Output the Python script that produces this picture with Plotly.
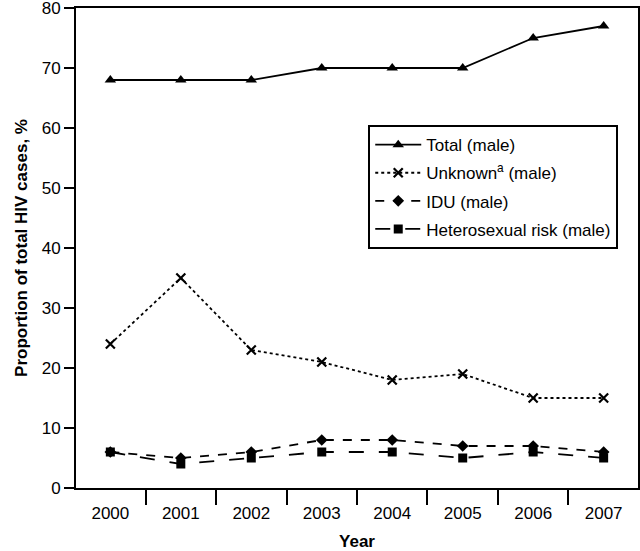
import plotly.graph_objects as go

years = ["2000", "2001", "2002", "2003", "2004", "2005", "2006", "2007"]
total_male = [68, 68, 68, 70, 70, 70, 75, 77]
unknown_male = [24, 35, 23, 21, 18, 19, 15, 15]
idu_male = [6, 5, 6, 8, 8, 7, 7, 6]
hetero_male = [6, 4, 5, 6, 6, 5, 6, 5]
y_ticks = [0, 10, 20, 30, 40, 50, 60, 70, 80]

FONT = "Liberation Sans, Arial, Helvetica, sans-serif"
FS = 17

fig = go.Figure()
fig.add_trace(go.Scatter(x=years, y=total_male, name="Total (male)", mode="lines+markers",
                         legendgroup="a",
                         line=dict(color="black", width=1.8, dash="solid"),
                         marker=dict(symbol="triangle-up", size=10, color="black")))
fig.add_trace(go.Scatter(x=years, y=unknown_male, name="Unknown<sup>a</sup> (male)", mode="lines+markers",
                         legendgroup="b",
                         line=dict(color="black", width=1.8, dash="dot"),
                         marker=dict(symbol="x-thin-open", size=9, color="black",
                                     line=dict(color="black", width=2.2))))
fig.add_trace(go.Scatter(x=years, y=idu_male, name="IDU (male)", mode="lines+markers",
                         legendgroup="c",
                         line=dict(color="black", width=1.8, dash="dash"),
                         marker=dict(symbol="diamond", size=9, color="black")))
fig.add_trace(go.Scatter(x=years, y=hetero_male, name="Heterosexual risk (male)", mode="lines+markers",
                         legendgroup="d",
                         line=dict(color="black", width=1.8, dash="longdash"),
                         marker=dict(symbol="square", size=9, color="black")))

fig.update_layout(
    width=640, height=551,
    margin=dict(l=76, r=2, t=8, b=63, autoexpand=False),
    paper_bgcolor="white", plot_bgcolor="white",
    font=dict(family=FONT, size=FS, color="black"),
    showlegend=True,
    legend=dict(x=0.52, y=0.756, xanchor="left", yanchor="top",
                bordercolor="black", borderwidth=2, bgcolor="white",
                font=dict(size=FS, family=FONT), tracegroupgap=3,
                itemwidth=46),
    xaxis=dict(type="category", categoryorder="array", categoryarray=years,
               tickson="boundaries", ticks="outside", ticklen=15, tickwidth=2,
               tickcolor="black", showline=True, linecolor="black", linewidth=2,
               mirror=True, showgrid=False, zeroline=False, automargin=False,
               ticklabelstandoff=9,
               tickfont=dict(size=FS, family=FONT),
               title=dict(text="<b>Year</b>", font=dict(size=FS, family=FONT), standoff=14)),
    yaxis=dict(range=[0, 80], tickvals=y_ticks, ticks="outside", ticklen=10, tickwidth=2,
               tickcolor="black", showline=True, linecolor="black", linewidth=2,
               mirror=True, showgrid=False, zeroline=False, ticklabeloverflow="allow",
               automargin=False,
               tickfont=dict(size=FS, family=FONT),
               title=dict(text="<b>Proportion of total HIV cases, %</b>",
                          font=dict(size=FS, family=FONT), standoff=10)),
)

fig.write_html("out.html", config={"responsive": False, "displayModeBar": False},
               post_script="document.body.style.margin='0';document.body.style.overflow='hidden';")
